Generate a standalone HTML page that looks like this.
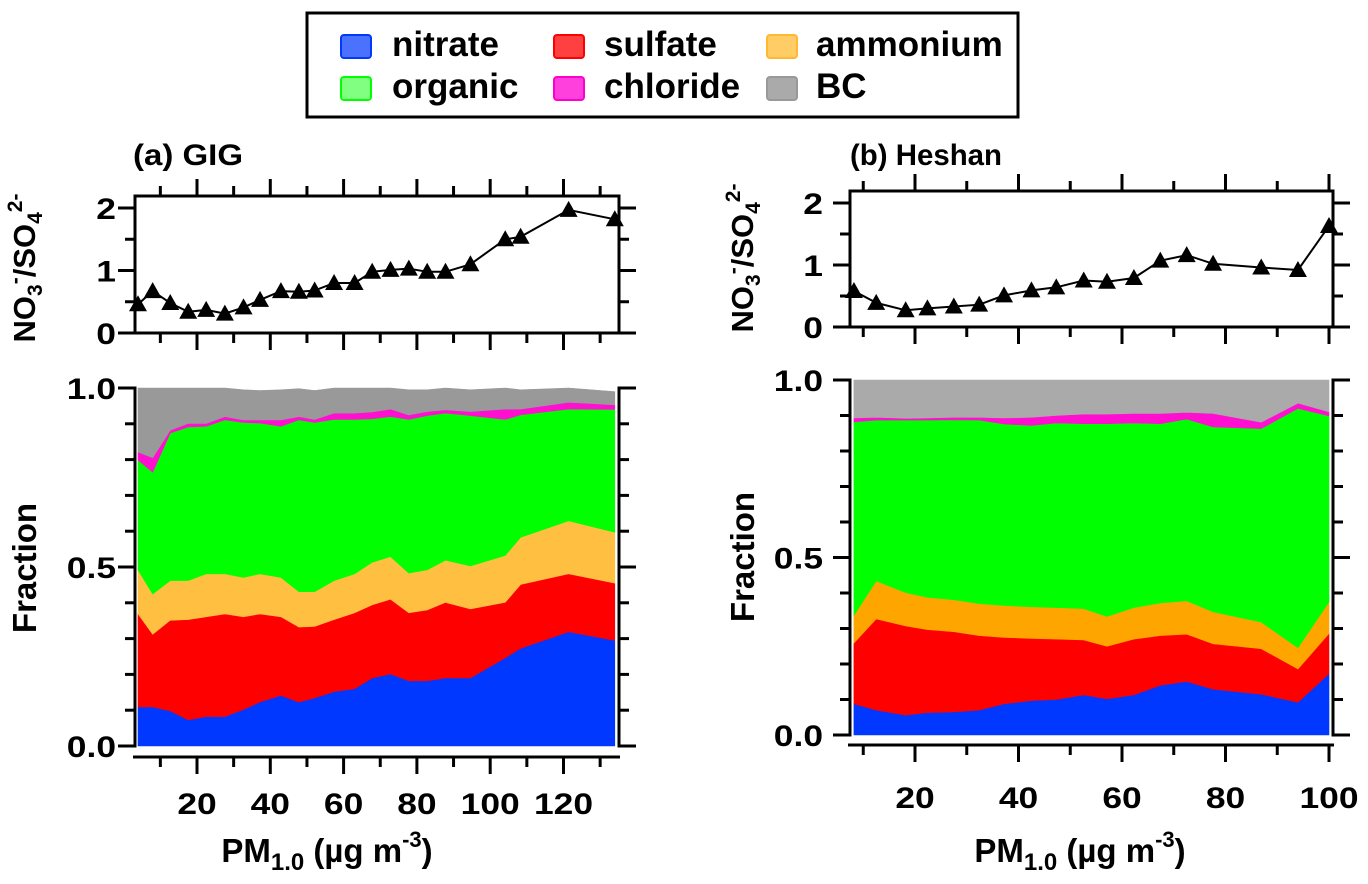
<!DOCTYPE html>
<html><head><meta charset="utf-8"><title>PM1 composition fractions</title>
<style>
html,body{margin:0;padding:0;background:#fff;}
svg{display:block;font-family:"Liberation Sans",Arial,sans-serif;font-weight:bold;}
</style></head>
<body>
<svg id="chart" xmlns="http://www.w3.org/2000/svg" width="1368" height="884" viewBox="0 0 1368 884">
  <rect x="0" y="0" width="1368" height="884" fill="#fff"/>
  <g id="legend">
    <rect x="307" y="13" width="711" height="104" fill="#fff" stroke="#000" stroke-width="3"/>
    <g><rect x="341" y="35" width="30" height="23" rx="3" fill="#4a72ff" stroke="#0038ff" stroke-width="2"/><text x="392" y="56" font-size="35">nitrate</text></g>
    <g><rect x="554" y="35" width="30" height="23" rx="3" fill="#ff4040" stroke="#ff0000" stroke-width="2"/><text x="604" y="56" font-size="35">sulfate</text></g>
    <g><rect x="767" y="35" width="30" height="23" rx="3" fill="#ffcc66" stroke="#ffb830" stroke-width="2"/><text x="816" y="56" font-size="35">ammonium</text></g>
    <g><rect x="341" y="77" width="30" height="23" rx="3" fill="#80ff80" stroke="#00ff00" stroke-width="2"/><text x="392" y="98" font-size="35">organic</text></g>
    <g><rect x="554" y="77" width="30" height="23" rx="3" fill="#ff40dd" stroke="#ff00cc" stroke-width="2"/><text x="604" y="98" font-size="35">chloride</text></g>
    <g><rect x="767" y="77" width="30" height="23" rx="3" fill="#aaaaaa" stroke="#999999" stroke-width="2"/><text x="816" y="98" font-size="35">BC</text></g>
  </g>

  <text x="133" y="165" font-size="30" textLength="110" lengthAdjust="spacingAndGlyphs">(a) GIG</text>
  <text x="850" y="165" font-size="30" textLength="152" lengthAdjust="spacingAndGlyphs">(b) Heshan</text>

  <text transform="translate(35,268) rotate(-90)" text-anchor="middle" font-size="31">NO<tspan font-size="21" dy="7">3</tspan><tspan font-size="21" dy="-20">-</tspan><tspan dy="13">/SO</tspan><tspan font-size="21" dy="7">4</tspan><tspan font-size="21" dy="-20">2-</tspan></text>
  <text transform="translate(36,568) rotate(-90)" text-anchor="middle" font-size="33">Fraction</text>
  <text transform="translate(753,258) rotate(-90)" text-anchor="middle" font-size="31">NO<tspan font-size="21" dy="7">3</tspan><tspan font-size="21" dy="-20">-</tspan><tspan dy="13">/SO</tspan><tspan font-size="21" dy="7">4</tspan><tspan font-size="21" dy="-20">2-</tspan></text>
  <text transform="translate(754,557) rotate(-90)" text-anchor="middle" font-size="33">Fraction</text>

  <text x="327" y="862" text-anchor="middle" font-size="33">PM<tspan font-size="24" dy="8">1.0</tspan><tspan dy="-8"> (µg m</tspan><tspan font-size="22" dy="-15">-3</tspan><tspan dy="15">)</tspan></text>
  <text x="1080" y="862" text-anchor="middle" font-size="33">PM<tspan font-size="24" dy="8">1.0</tspan><tspan dy="-8"> (µg m</tspan><tspan font-size="22" dy="-15">-3</tspan><tspan dy="15">)</tspan></text>

  <g id="marks"></g>
</svg>
<script>
// ---------- Panel (a) GIG data ----------
const xA = [3.9,7.9,12.7,17.6,22.5,27.6,32.7,37.2,42.9,47.8,52.1,57.4,63.0,67.8,72.8,77.8,82.8,87.8,94.6,104.1,108.3,121.4,134];
const ratioA = [0.46,0.67,0.48,0.34,0.37,0.31,0.41,0.53,0.67,0.66,0.68,0.80,0.80,0.98,1.01,1.03,0.98,0.98,1.10,1.50,1.54,1.97,1.82];
const nitrateA = [.109,.109,.098,.073,.082,.082,.102,.123,.141,.123,.134,.152,.160,.190,.201,.182,.182,.190,.190,.246,.273,.319,.295];
const sulfateA = [.260,.203,.253,.280,.279,.287,.259,.246,.220,.209,.200,.201,.212,.204,.209,.190,.198,.211,.193,.155,.178,.162,.160];
const ammoniumA = [.123,.113,.111,.109,.120,.112,.110,.112,.110,.099,.097,.109,.109,.119,.119,.111,.112,.118,.120,.131,.132,.148,.142];
const organicA = [.307,.340,.412,.429,.412,.430,.433,.421,.422,.480,.473,.450,.431,.401,.391,.429,.431,.411,.420,.380,.342,.312,.343];
const chlorideA = [.022,.040,.008,.010,.008,.009,.007,.009,.018,.009,.008,.018,.018,.019,.021,.013,.011,.009,.011,.029,.016,.019,.013];
const bcA = [.179,.195,.118,.099,.099,.080,.084,.082,.084,.078,.081,.070,.070,.067,.059,.070,.061,.061,.061,.059,.054,.040,.037];
const xTicksA = [20,40,60,80,100,120];

// ---------- Panel (b) Heshan data ----------
const xB = [8.2,12.5,18.2,22.4,27.5,32.4,37.2,42.5,47.3,52.6,57.1,62.3,67.4,72.5,77.6,86.9,94.0,100];
const ratioB = [0.58,0.39,0.27,0.30,0.33,0.36,0.51,0.59,0.64,0.75,0.73,0.79,1.07,1.16,1.02,0.96,0.92,1.63];
const nitrateB = [.088,.070,.056,.063,.065,.070,.088,.097,.100,.113,.102,.113,.140,.151,.129,.115,.092,.173];
const sulfateB = [.171,.257,.251,.234,.226,.210,.187,.175,.170,.155,.148,.157,.140,.133,.128,.128,.094,.113];
const ammoniumB = [.078,.107,.094,.091,.090,.090,.090,.089,.089,.088,.084,.089,.092,.094,.090,.075,.060,.089];
const organicB = [.545,.453,.486,.499,.507,.517,.511,.511,.520,.521,.543,.520,.505,.512,.521,.545,.674,.524];
const chlorideB = [.011,.008,.005,.006,.007,.008,.017,.023,.021,.027,.027,.027,.029,.019,.038,.018,.015,.011];
const bcB = [.107,.105,.108,.107,.105,.105,.107,.105,.100,.096,.096,.094,.094,.091,.094,.119,.065,.090];
const xTicksB = [20,40,60,80,100];

const ratioTicks = [0,1,2];
const fracTicks = [0,0.5,1];
const fracTickLabels = ["0.0","0.5","1.0"];
const speciesNames = ["nitrate","sulfate","ammonium","organic","chloride","bc"];

const NS = "http://www.w3.org/2000/svg";
const marks = document.getElementById('marks');
function mk(tag, attrs, parent){
  const e = document.createElementNS(NS, tag);
  for (const k in attrs) e.setAttribute(k, attrs[k]);
  (parent||marks).appendChild(e);
  return e;
}

const panels = [
  {id:'a', xs:xA, ratio:ratioA, sp:[nitrateA,sulfateA,ammoniumA,organicA,chlorideA,bcA],
   colors:['#0038ff','#ff0000','#ffbf40','#00ff00','#ff10d0','#999999'],
   xmap:v=>197+(v-20)*3.665, L:135, R:619,
   topY:r=>333-r*62.5, topT:196, topB:333,
   fracY:f=>746-f*358, botAxisY:757, xTicks:xTicksA, minor:[10,20,30,40,50,60,70,80,90,100,110,120,130],
   labRight:116, xLabelY:814},
  {id:'b', xs:xB, ratio:ratioB, sp:[nitrateB,sulfateB,ammoniumB,organicB,chlorideB,bcB],
   colors:['#0038ff','#ff0000','#ffa500','#00ff00','#ff10d0','#aaaaaa'],
   xmap:v=>915+(v-20)*5.175, L:850, R:1333,
   topY:r=>327-r*62, topT:191, topB:327,
   fracY:f=>735-f*355, botAxisY:745, xTicks:xTicksB, minor:[10,20,30,40,50,60,70,80,90,100],
   labRight:823, xLabelY:808}
];

function line(g,x1,y1,x2,y2,w){ return mk('line',{x1:x1,y1:y1,x2:x2,y2:y2,stroke:'#000','stroke-width':w||3},g); }
function label(g,x,y,str,anchor,size){
  const t = mk('text',{'text-anchor':anchor,'font-size':size||30,transform:`translate(${x},${y}) scale(1.18,1)`},g);
  t.textContent = str;
  return t;
}

panels.forEach(p=>{
  const gArea = mk('g',{});
  
  
  const n = p.xs.length;
  let lower = new Array(n).fill(0);
  p.sp.forEach((arr,si)=>{
    const upper = lower.map((v,i)=>v+arr[i]);
    let pts = [];
    for (let i=0;i<n;i++) pts.push(p.xmap(p.xs[i]).toFixed(1)+','+p.fracY(upper[i]).toFixed(1));
    for (let i=n-1;i>=0;i--) pts.push(p.xmap(p.xs[i]).toFixed(1)+','+p.fracY(lower[i]).toFixed(1));
    const poly = mk('polygon',{points:pts.join(' '),fill:p.colors[si],stroke:p.colors[si],'stroke-width':0.6},gArea);
    
    
    lower = upper;
  });

  const gTop = mk('g',{});
  
  
  mk('rect',{x:p.L,y:p.topT,width:p.R-p.L,height:p.topB-p.topT,fill:'none',stroke:'#000','stroke-width':3},gTop);
  p.minor.forEach(v=>{
    const x = p.xmap(v);
    const len = (v%20===0)?17:10;
    line(gTop,x,p.topT,x,p.topT-len);
    line(gTop,x,p.topB,x,p.topB+len);
  });
  [0,0.5,1,1.5,2].forEach(r=>{
    const y = p.topY(r);
    const len = (r%1===0)?17:10;
    line(gTop,p.L,y,p.L-len,y);
    line(gTop,p.R,y,p.R+len,y);
  });
  ratioTicks.forEach(r=>{
    const t = label(gTop,p.labRight,p.topY(r)+11,String(r),'end',30);
    
    
  });
  const pts = p.xs.map((v,i)=>p.xmap(v).toFixed(1)+','+p.topY(p.ratio[i]).toFixed(1)).join(' ');
  const pl = mk('polyline',{points:pts,fill:'none',stroke:'#000','stroke-width':2},gTop);
  
  
  p.xs.forEach((v,i)=>{
    const x = p.xmap(v), y = p.topY(p.ratio[i]);
    const tri = mk('polygon',{points:`${x-9},${y+7} ${x+9},${y+7} ${x},${y-9}`,fill:'#000'},gTop);
    
    
  });

  const gBot = mk('g',{});
  
  
  const yTop = p.fracY(1), yBot = p.fracY(0);
  line(gBot,p.L,yTop-1.5,p.L,yBot+1.5);
  line(gBot,p.R,yTop-1.5,p.R,yBot+1.5);
  for (let k=0;k<=10;k++){
    const y = p.fracY(k/10);
    const len = (k%5===0)?17:10;
    line(gBot,p.L,y,p.L-len,y);
    line(gBot,p.R,y,p.R+len,y);
  }
  fracTicks.forEach((f,i)=>{
    const t = label(gBot,p.labRight,p.fracY(f)+11,fracTickLabels[i],'end',30);
    
    
  });
  line(gBot,p.L-2,p.botAxisY,p.R+1,p.botAxisY);
  p.minor.forEach(v=>{
    const x = p.xmap(v);
    const len = (v%20===0)?17:10;
    line(gBot,x,p.botAxisY,x,p.botAxisY+len);
  });
  p.xTicks.forEach(v=>{
    const t = label(gBot,p.xmap(v),p.xLabelY,String(v),'middle',30);
    
    
  });
});
</script>
</body></html>
